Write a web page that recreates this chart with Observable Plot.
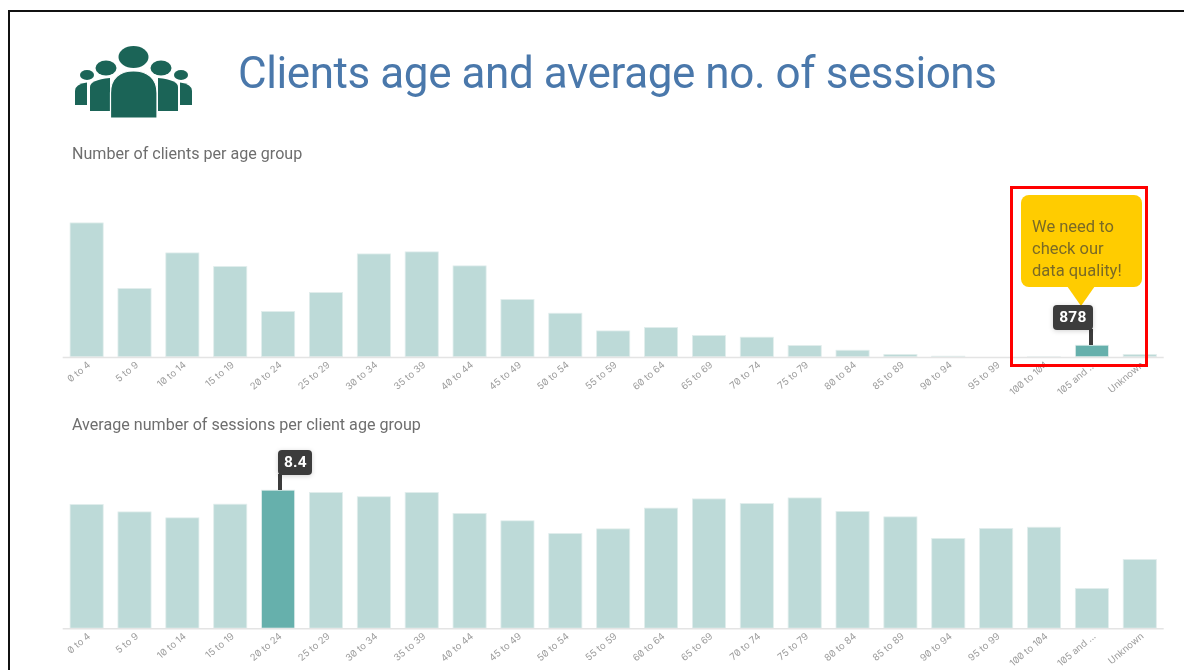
<!DOCTYPE html>
<html>
<head>
<meta charset="utf-8">
<script src="https://cdn.jsdelivr.net/npm/d3@7"></script>
<script src="https://cdn.jsdelivr.net/npm/@observablehq/plot@0.6"></script>
<style>
html,body{margin:0;padding:0;background:#fff;}
#page{position:relative;width:1184px;height:670px;overflow:hidden;font-family:Roboto,sans-serif;}
#page>*{position:absolute;}
#page>*:not(.frameTop):not(.frameLeft){filter:blur(0.4px);}
.frameTop{left:8px;right:0;top:10px;height:2px;background:#111;}
.frameLeft{left:8px;top:10px;bottom:0;width:2px;background:#111;}
h1{margin:0;left:238px;top:43px;font:400 44px/60px Roboto,sans-serif;letter-spacing:-0.42px;color:#4a78ab;white-space:nowrap;}
.sub{font:400 16.1px/20px Roboto,sans-serif;color:#6e6e6e;white-space:nowrap;left:72px;}
.plot svg{display:block;}
.plot text{font-family:Inter,sans-serif;font-feature-settings:"zero";}
.tip{background:#3c3c3c;border-radius:4px;color:#fff;font:700 15.5px/25px Roboto,sans-serif;letter-spacing:.2px;text-align:center;box-shadow:0 1px 5px rgba(0,0,0,.18);}
.stem{background:#3c3c3c;width:3.5px;}
.callout{left:1021px;top:195px;width:120.5px;height:92px;background:#ffcc00;border-radius:8px;box-sizing:border-box;padding:21px 0 0 11px;font:400 16.5px/22px Roboto,sans-serif;color:#7a6a26;}
.callout:after{content:"";position:absolute;left:46px;top:91px;border-left:14px solid transparent;border-right:14px solid transparent;border-top:20px solid #ffcc00;}
.redbox{left:1010px;top:186px;width:138px;height:180.5px;box-sizing:border-box;border:3px solid #ff0000;}
</style>
</head>
<body>
<div id="page">
  <div class="frameTop"></div><div class="frameLeft"></div>
  <svg style="left:70px;top:40px" width="130" height="85" viewBox="70 40 130 85">
    <g fill="#1b6457">
      <ellipse cx="87" cy="75" rx="7" ry="5"/><ellipse cx="181" cy="75" rx="7" ry="5"/>
      <path d="M75 105V91Q75 84 87 82.5V105Z"/><path d="M192 105V91Q192 84 180 82.5V105Z"/>
      <ellipse cx="106" cy="68" rx="10.5" ry="7.5"/><ellipse cx="161" cy="68" rx="10.5" ry="7.5"/>
      <path d="M90 111V87Q90 80 110 78V111Z"/><path d="M178 111V87Q178 80 158 78V111Z"/>
      <ellipse cx="133.5" cy="57" rx="15" ry="11"/>
      <path d="M110.5 118V93C110.5 78 120 71 133.5 71C147 71 157 78 157 93V118Z" stroke="#fff" stroke-width="1.2"/>
    </g>
  </svg>
  <h1>Clients age and average no. of sessions</h1>
  <div class="sub" style="top:144px">Number of clients per age group</div>
  <div class="sub" style="top:415px">Average number of sessions per client age group</div>
  <div id="chartA" class="plot" style="left:0;top:190px"></div>
  <div id="chartB" class="plot" style="left:0;top:470px"></div>
</div>
<script>
const ages = ["0 to 4","5 to 9","10 to 14","15 to 19","20 to 24","25 to 29","30 to 34","35 to 39","40 to 44","45 to 49","50 to 54","55 to 59","60 to 64","65 to 69","70 to 74","75 to 79","80 to 84","85 to 89","90 to 94","95 to 99","100 to 104","105 and ...","Unknown"];
const clients = [9830,5030,7635,6640,3345,4735,7560,7710,6685,4225,3220,1925,2175,1590,1465,855,510,200,75,20,30,878,200];
const sessions = [7.53,7.08,6.72,7.55,8.4,8.26,8.0,8.26,6.99,6.54,5.77,6.05,7.31,7.87,7.59,7.93,7.11,6.78,5.47,6.08,6.15,2.43,4.19];
const calloutLines = ["We need to","check our","data quality!"];

const LIGHT = "#bddad8", DARK = "#66b0ac";

function chart(values, highlight, domainMax, height, marginTop, marginBottom) {
  const rows = ages.map((age, i) => ({age, value: values[i]}));
  return Plot.plot({
    width: 1184, height, marginLeft: 62.7, marginRight: 20.3, marginTop, marginBottom,
    style: {background: "transparent", overflow: "visible"},
    x: {domain: ages, paddingInner: 0.3, paddingOuter: 0.15, round: false, label: null},
    y: {domain: [0, domainMax], axis: null},
    marks: [
      Plot.barY(rows, {x: "age", y: "value", inset: 0.2, stroke: "#e2eeed", strokeWidth: 0.8,
        fill: d => d.age === highlight ? DARK : LIGHT}),
      Plot.ruleY([0], {stroke: "#e4e4e4", strokeWidth: 1.5}),
      Plot.axisX({tickSize: 0, tickRotate: -40, tickPadding: 6, dx: 2, fontSize: 9.6, fill: "#9c9c9c", label: null, lineWidth: 20})
    ]
  });
}

const page = document.getElementById("page");
function tip(plot, top, age, value, text, boxW, boxH, stemLen, stemOffset, side) {
  const x = plot.scale("x"), y = plot.scale("y");
  const cx = x.apply(age) + x.bandwidth / 2 + stemOffset, ty = y.apply(value) + top;
  const stem = document.createElement("div");
  stem.className = "stem";
  stem.style.left = (cx - 1.75) + "px";
  stem.style.top = (ty - stemLen) + "px";
  stem.style.height = stemLen + "px";
  page.appendChild(stem);
  const box = document.createElement("div");
  box.className = "tip";
  box.textContent = text;
  box.style.width = boxW + "px";
  box.style.height = boxH + "px";
  box.style.lineHeight = boxH + "px";
  box.style.left = (side === "right" ? cx - 1.75 : cx + 1.75 - boxW) + "px";
  box.style.top = (ty - stemLen - boxH + 1) + "px";
  page.appendChild(box);
}

const a = chart(clients, "105 and ...", 10000, 215, 30.4, 48);
document.getElementById("chartA").appendChild(a);
const b = chart(sessions, "20 to 24", 9, 200, 10.1, 41.7);
document.getElementById("chartB").appendChild(b);

const red = document.createElement("div"); red.className = "redbox"; page.appendChild(red);
const callout = document.createElement("div"); callout.className = "callout";
calloutLines.forEach(t => { const l = document.createElement("div"); l.textContent = t; callout.appendChild(l); });
page.appendChild(callout);

tip(a, 190, "105 and ...", clients[21], String(clients[21]), 39.5, 25, 16, -1, "left");
tip(b, 470, "20 to 24", sessions[4], sessions[4].toFixed(1), 34, 24.5, 16, 2, "right");
</script>
</body>
</html>
